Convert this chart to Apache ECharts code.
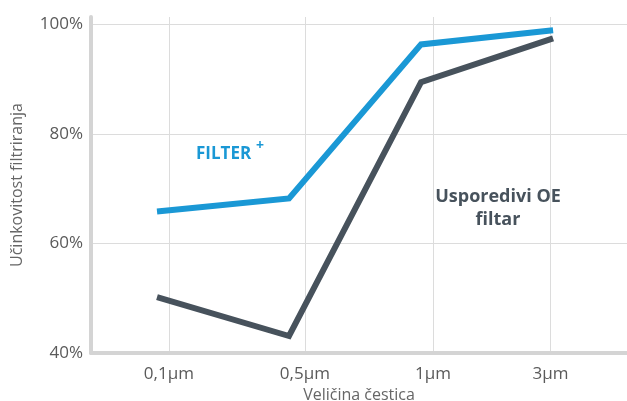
<!DOCTYPE html>
<html>
<head>
<meta charset="utf-8">
<script src="https://cdn.jsdelivr.net/npm/echarts@6/dist/echarts.min.js"></script>
<style>
html,body{margin:0;padding:0;background:#fff;}
#c{width:627px;height:401px;}
</style>
</head>
<body>
<div id="c"></div>
<script>
const categories = ['0,1µm', '0,5µm', '1µm', '3µm'];
const filterPlus = [65.8, 68.2, 96.3, 98.9];
const oeFilter = [50.2, 43.1, 89.4, 97.4];
const yTicks = [40, 60, 80, 100];
const xLabelPos = [0.09, 1.12, 2.09, 2.98];

const toPairs = vals => vals.map((v, i) => [i, v]);
const chart = echarts.init(document.getElementById('c'), null, {renderer: 'canvas'});
const font = '"Open Sans", Roboto, sans-serif';
chart.setOption({
  animation: false,
  grid: {left: 91, right: 0, top: 17, bottom: 48, containLabel: false, outerBoundsMode: 'none'},
  xAxis: {
    type: 'value', min: -0.5, max: 3.56,
    name: 'Veličina čestica', nameLocation: 'middle', nameGap: 28,
    nameTextStyle: {color: '#666', fontSize: 16, fontFamily: font},
    axisLine: {show: true, onZero: false, lineStyle: {color: '#d4d4d4', width: 4}},
    axisTick: {show: false, customValues: xLabelPos},
    axisLabel: {
      customValues: xLabelPos, margin: 13, color: '#5a5a5a', fontSize: 17, fontFamily: font,
      formatter: v => { const i = xLabelPos.findIndex(p => Math.abs(p - v) < 1e-6); return i >= 0 ? categories[i] : ''; }
    },
    splitLine: {show: true, lineStyle: {color: '#dcdcdc', width: 1}}
  },
  yAxis: {
    type: 'value', min: 40, max: 101.3,
    name: 'Učinkovitost filtriranja', nameLocation: 'middle', nameGap: 66,
    nameTextStyle: {color: '#666', fontSize: 16, fontFamily: font},
    axisLine: {show: true, onZero: false, lineStyle: {color: '#d4d4d4', width: 4}},
    axisTick: {show: false, customValues: yTicks},
    axisLabel: {customValues: yTicks, margin: 8, color: '#5a5a5a', fontSize: 17, fontFamily: font, formatter: v => v + '%'},
    splitLine: {show: true, lineStyle: {color: '#dcdcdc', width: 1}}
  },
  series: [
    {type: 'line', data: toPairs(filterPlus), showSymbol: false, symbol: 'none',
     lineStyle: {color: '#1a98d5', width: 6, join: 'miter', cap: 'butt'}, z: 3},
    {type: 'line', data: toPairs(oeFilter), showSymbol: false, symbol: 'none',
     lineStyle: {color: '#47525c', width: 6, join: 'miter', cap: 'butt'}, z: 2}
  ],
  graphic: [
    {type: 'text', x: 196, y: 154, style: {text: 'FILTER', fill: '#1a98d5', font: 'bold 17px ' + font, verticalAlign: 'middle'}},
    {type: 'text', x: 256, y: 146, style: {text: '+', fill: '#1a98d5', font: 'bold 14px ' + font, verticalAlign: 'middle'}},
    {type: 'text', x: 498, y: 208, style: {text: 'Usporedivi OE\nfiltar', fill: '#47525c', font: 'bold 18px ' + font, align: 'center', verticalAlign: 'middle', lineHeight: 23}}
  ]
});
</script>
</body>
</html>
